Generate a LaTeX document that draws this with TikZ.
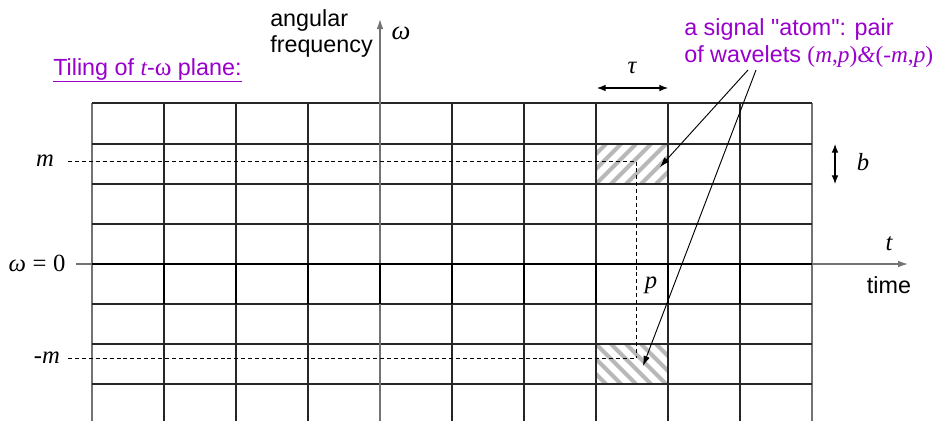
\documentclass[tikz,border=0pt]{standalone}
\usepackage{fontspec}
\setmainfont{Liberation Sans}
\newfontfamily\tms{Liberation Serif}
\usetikzlibrary{arrows.meta}
\definecolor{atompurple}{HTML}{9900CC}
\tikzset{
  gridline/.style={line width=0.9pt, black!85},
  outerline/.style={line width=1pt, black!55},
  zeroline/.style={line width=1.7pt, black},
  axisline/.style={line width=1pt, black!55},
  hatch/.style={line width=3pt, black!28},
  guide/.style={line width=0.7pt, black, dash pattern=on 3pt off 2.2pt},
  pointer/.style={line width=0.7pt, black, -{Latex[length=7.5pt,width=5pt]}},
  dim/.style={line width=0.8pt, black, {Latex[length=6.5pt,width=5pt]}-{Latex[length=6.5pt,width=5pt]}},
  sym/.style={font=\fontsize{18.5}{20}\tms\itshape, inner sep=0pt},
  lbl/.style={font=\fontsize{17.5}{19}\selectfont, inner sep=0pt},
}
\begin{document}
\begin{tikzpicture}[x=0.75pt,y=-0.75pt]
\useasboundingbox (0,0) rectangle (941,421);
\fill[white] (0,0) rectangle (941,421);

% hatched cells
\begin{scope}
\clip (596,144) rectangle (668,184);
\foreach \k in {-60,-45,...,90} \draw[hatch] (596+\k,184) -- ++(40,-40);
\end{scope}
\begin{scope}
\clip (596,344) rectangle (668,384);
\foreach \k in {-60,-45,...,90} \draw[hatch] (596+\k,344) -- ++(40,40);
\end{scope}

% grid
\foreach \x in {164,236,...,740} \draw[gridline] (\x,103) -- (\x,421);
\draw[outerline] (92,103) -- (92,421);
\draw[outerline] (812,103) -- (812,421);
\foreach \y in {103,144,184,224,304,344,384} \draw[gridline] (92,\y) -- (812,\y);

% axes
\coordinate (wbot) at (380,421);
\coordinate (wtop) at (380,19);
\coordinate (tleft) at (76,264);
\coordinate (tright) at (908,264);
\draw[axisline, -{Latex[length=7.5pt,width=5pt]}] (wbot) -- (wtop);
\draw[axisline, -{Latex[length=7.5pt,width=5pt]}] (tleft) -- (tright);
\draw[zeroline] (92,264) -- (812,264);
\foreach \x in {164,236,...,740} \draw[zeroline] (\x,264) -- (\x,304);

% labels
\node[font=\fontsize{17.5}{19.5}\selectfont, inner sep=0pt, anchor=base west, align=left] (freq) at (270,52) {angular\\frequency};
\node[font=\fontsize{20}{20}\tms\itshape, inner sep=0pt] (omega) at (401,33) {ω};
\node[lbl, text=atompurple, anchor=base west] (title) at (53,75)
  {\underline{Tiling of {\tms\itshape t}-{\fontsize{19}{19}\tms ω} plane:}};
\node[font=\fontsize{17.5}{20.25}\selectfont, inner sep=0pt, text=atompurple, anchor=base west, align=left] (atom) at (684,62)
  {a signal \textquotedbl atom\textquotedbl: pair\\of wavelets {\tms(\textit{m},\textit{p})\textit{\&}(-\textit{m},\textit{p})}};
\node[sym] (tau) at (632,68) {τ};
\node[sym] (blab) at (863,162) {b};
\node[sym] (tlab) at (889,244) {t};
\node[lbl] (time) at (889,285) {time};
\node[sym] (plab) at (651,285) {p};
\node[sym] (mlab) at (45,161) {m};
\node[sym] (mmlab) at (47,358) {-m};
\node[font=\fontsize{18.5}{20}\tms, inner sep=0pt] (w0) at (37,263) {\textit{ω}\hspace{5pt}=\hspace{5pt}0};

% dimension arrows
\coordinate (taul) at (597,88);
\coordinate (taur) at (668,88);
\draw[dim] (taul) -- (taur);
\coordinate (bt) at (835,144);
\coordinate (bb) at (835,184);
\draw[dim] (bt) -- (bb);

% guide lines
\coordinate (mstart) at (68,161);
\coordinate (mcorner) at (636,161);
\coordinate (mmstart) at (68,358);
\coordinate (mmcorner) at (636,358);
\draw[guide] (mstart) -- (mcorner) -- (mmcorner);
\draw[guide] (mmstart) -- (mmcorner);

% pointers
\coordinate (a1) at (748,70);
\coordinate (a2) at (756,70);
\coordinate (tip1) at (660,167);
\coordinate (tip2) at (643,366);
\draw[pointer] (a1) -- (tip1);
\draw[pointer] (a2) -- (tip2);
\end{tikzpicture}
\end{document}
